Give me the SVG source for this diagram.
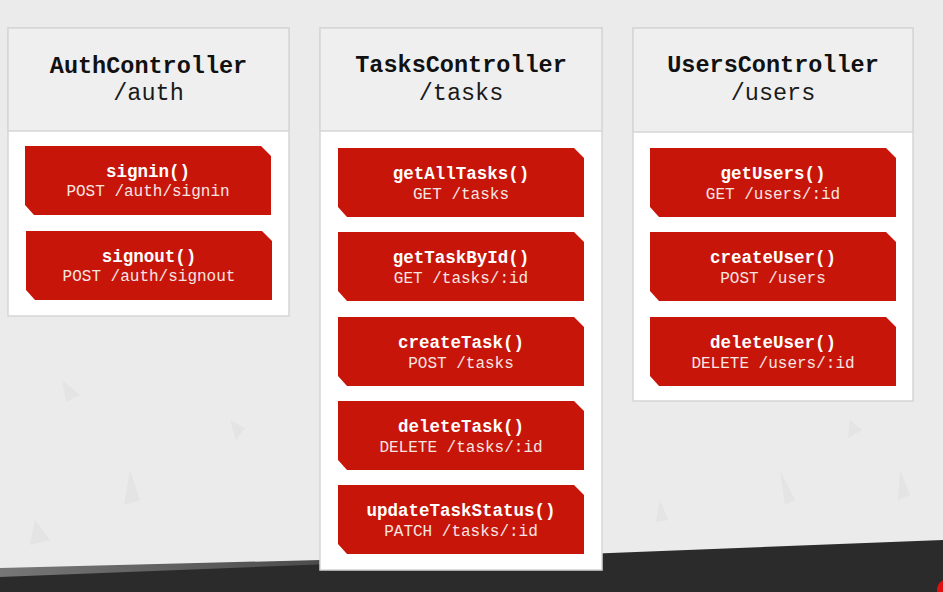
<svg xmlns="http://www.w3.org/2000/svg" xmlns:xlink="http://www.w3.org/1999/xlink" width="943" height="592" viewBox="0 0 943 592">
  <style>
    .panel { fill: #ffffff; stroke: #d6d6d6; stroke-width: 1.5; }
    .head { fill: #efefef; stroke: #d6d6d6; stroke-width: 1.5; }
    .ttl { font-family: "Liberation Mono", "DejaVu Sans Mono", monospace; font-size: 23.5px; font-weight: bold; fill: #111111; text-anchor: middle; }
    .pth { font-family: "Liberation Mono", "DejaVu Sans Mono", monospace; font-size: 23.5px; fill: #1a1a1a; text-anchor: middle; }
    .card { fill: #c8150a; }
    .fn { font-family: "Liberation Mono", "DejaVu Sans Mono", monospace; font-size: 17.5px; font-weight: bold; fill: #ffffff; text-anchor: middle; }
    .rt { font-family: "Liberation Mono", "DejaVu Sans Mono", monospace; font-size: 16px; fill: #f6e6e2; text-anchor: middle; }
    .tex { fill: #dcdcdc; opacity: 0.45; }
  </style>
  <defs>
    <path id="cardShape" d="M0,0 H236 L246,10 V69 H9 L0,59 Z"/>
    <linearGradient id="strip" x1="0" y1="0" x2="1" y2="0">
      <stop offset="0" stop-color="#6a6a6a"/>
      <stop offset="1" stop-color="#3a3a3a"/>
    </linearGradient>
  </defs>

  <!-- background -->
  <rect x="0" y="0" width="943" height="592" fill="#ebebeb"/>
  <g id="texture">
    <polygon class="tex" points="62,380 80,395 66,402"/>
    <polygon class="tex" points="130,470 140,500 124,505"/>
    <polygon class="tex" points="35,520 50,540 30,545"/>
    <polygon class="tex" points="230,420 245,428 236,440"/>
    <polygon class="tex" points="780,470 795,500 785,505"/>
    <polygon class="tex" points="850,420 862,430 848,438"/>
    <polygon class="tex" points="660,500 668,520 656,522"/>
    <polygon class="tex" points="900,470 910,495 898,500"/>
  </g>
  <polygon points="0,568 320,560 320,574 0,580" fill="url(#strip)" opacity="0.9"/>
  <polygon points="0,577 943,540 943,592 0,592" fill="#2b2b2b"/>
  <circle cx="948" cy="590" r="11" fill="#e01010"/>

  <!-- AuthController -->
  <g id="auth-controller">
    <rect class="panel" x="8" y="28" width="281" height="288"/>
    <rect class="head" x="8" y="28" width="281" height="103"/>
    <text class="ttl" x="148.5" y="73">AuthController</text>
    <text class="pth" x="148.5" y="100">/auth</text>
  </g>
  <g id="auth-signin">
    <use xlink:href="#cardShape" class="card" x="25" y="146"/>
    <text class="fn" x="148" y="177">signin()</text>
    <text class="rt" x="148" y="196">POST /auth/signin</text>
  </g>
  <g id="auth-signout">
    <use xlink:href="#cardShape" class="card" x="26" y="231"/>
    <text class="fn" x="149" y="262">signout()</text>
    <text class="rt" x="149" y="281">POST /auth/signout</text>
  </g>

  <!-- TasksController -->
  <g id="tasks-controller">
    <rect class="panel" x="320" y="28" width="282" height="542"/>
    <rect class="head" x="320" y="28" width="282" height="103"/>
    <text class="ttl" x="461" y="72">TasksController</text>
    <text class="pth" x="461" y="100">/tasks</text>
  </g>
  <g id="tasks-getall">
    <use xlink:href="#cardShape" class="card" x="338" y="148"/>
    <text class="fn" x="461" y="179">getAllTasks()</text>
    <text class="rt" x="461" y="199">GET /tasks</text>
  </g>
  <g id="tasks-getbyid">
    <use xlink:href="#cardShape" class="card" x="338" y="232"/>
    <text class="fn" x="461" y="263">getTaskById()</text>
    <text class="rt" x="461" y="283">GET /tasks/:id</text>
  </g>
  <g id="tasks-create">
    <use xlink:href="#cardShape" class="card" x="338" y="317"/>
    <text class="fn" x="461" y="348">createTask()</text>
    <text class="rt" x="461" y="368">POST /tasks</text>
  </g>
  <g id="tasks-delete">
    <use xlink:href="#cardShape" class="card" x="338" y="401"/>
    <text class="fn" x="461" y="432">deleteTask()</text>
    <text class="rt" x="461" y="452">DELETE /tasks/:id</text>
  </g>
  <g id="tasks-updatestatus">
    <use xlink:href="#cardShape" class="card" x="338" y="485"/>
    <text class="fn" x="461" y="516">updateTaskStatus()</text>
    <text class="rt" x="461" y="536">PATCH /tasks/:id</text>
  </g>

  <!-- UsersController -->
  <g id="users-controller">
    <rect class="panel" x="633" y="28" width="280" height="373"/>
    <rect class="head" x="633" y="28" width="280" height="104"/>
    <text class="ttl" x="773" y="72">UsersController</text>
    <text class="pth" x="773" y="100">/users</text>
  </g>
  <g id="users-get">
    <use xlink:href="#cardShape" class="card" x="650" y="148"/>
    <text class="fn" x="773" y="179">getUsers()</text>
    <text class="rt" x="773" y="199">GET /users/:id</text>
  </g>
  <g id="users-create">
    <use xlink:href="#cardShape" class="card" x="650" y="232"/>
    <text class="fn" x="773" y="263">createUser()</text>
    <text class="rt" x="773" y="283">POST /users</text>
  </g>
  <g id="users-delete">
    <use xlink:href="#cardShape" class="card" x="650" y="317"/>
    <text class="fn" x="773" y="348">deleteUser()</text>
    <text class="rt" x="773" y="368">DELETE /users/:id</text>
  </g>

  <g id="connectors"></g>
</svg>
